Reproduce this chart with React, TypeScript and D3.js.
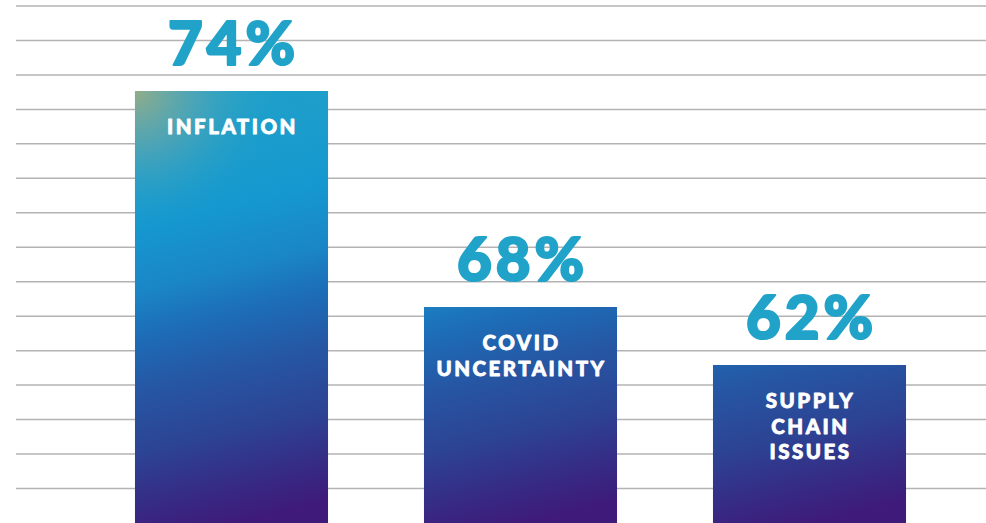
import React from "react";
import * as d3 from "d3";

const categories = ["INFLATION", "COVID UNCERTAINTY", "SUPPLY CHAIN ISSUES"];
const labelLines = [["INFLATION"], ["COVID", "UNCERTAINTY"], ["SUPPLY", "CHAIN", "ISSUES"]];
const values = [74, 68, 62];
const gridCount = 15;

const W = 986;
const H = 523;

export default function App() {
  const x = d3
    .scaleBand<string>()
    .domain(categories)
    .range([87, 954])
    .paddingInner(0.332)
    .paddingOuter(0.166);

  // bar tops are not linear in the source graphic: piecewise scale through the values
  const y = d3.scaleLinear().domain([62, 68, 74]).range([365, 307, 91]);
  const grid = d3.scaleLinear().domain([0, gridCount - 1]).range([6, 488.5]);

  const bw = x.bandwidth();
  const numFont = "Lato, Roboto, 'Open Sans', sans-serif";

  return (
    <svg
      width={W}
      height={H}
      viewBox={`0 0 ${W} ${H}`}
      style={{ position: "absolute", left: 0, top: 0, display: "block", background: "#fff" }}
    >
      <defs>
        {categories.map((c, i) => {
          const x0 = x(c)!;
          return (
            <linearGradient
              key={c}
              id={`g${i}`}
              gradientUnits="userSpaceOnUse"
              x1={x0}
              y1={91}
              x2={x0 + bw * 0.55}
              y2={H}
            >
              <stop offset="0" stopColor="#22a2c8" />
              <stop offset="0.3" stopColor="#1598cf" />
              <stop offset="0.44" stopColor="#1a86c6" />
              <stop offset="0.54" stopColor="#1d6cb7" />
              <stop offset="0.66" stopColor="#2656a3" />
              <stop offset="0.79" stopColor="#2c4494" />
              <stop offset="0.9" stopColor="#352d86" />
              <stop offset="1" stopColor="#3f1a7a" />
            </linearGradient>
          );
        })}
        <radialGradient
          id="corner"
          gradientUnits="userSpaceOnUse"
          cx={x(categories[0])!}
          cy={91}
          r={140}
        >
          <stop offset="0" stopColor="#93ad88" stopOpacity="1" />
          <stop offset="0.45" stopColor="#6fa8a8" stopOpacity="0.5" />
          <stop offset="1" stopColor="#22a2c8" stopOpacity="0" />
        </radialGradient>
      </defs>

      {d3.range(gridCount).map((i) => (
        <line
          key={i}
          x1={16}
          x2={W}
          y1={grid(i)}
          y2={grid(i)}
          stroke="#b3b3b3"
          strokeWidth={1.5}
        />
      ))}

      {categories.map((c, i) => {
        const x0 = x(c)!;
        const top = y(values[i]);
        const cx = x0 + bw / 2;
        return (
          <g key={c}>
            <rect x={x0} y={top} width={bw} height={H - top} fill={`url(#g${i})`} />
            {i === 0 && (
              <rect x={x0} y={top} width={bw} height={H - top} fill="url(#corner)" />
            )}
            <text
              x={cx + 2}
              y={top - 26.5}
              textAnchor="middle"
              fill="#21a3c9"
              stroke="#21a3c9"
              strokeWidth={2.2}
              strokeLinejoin="round"
              fontFamily={numFont}
              fontWeight={900}
              fontSize={60}
              letterSpacing={4}
            >
              {values[i]}%
            </text>
            {labelLines[i].map((ln, j) => (
              <text
                key={j}
                x={cx + 1}
                y={top + 43 + j * 25.5}
                textAnchor="middle"
                fill="#ffffff"
                stroke="#ffffff"
                strokeWidth={0.8}
                strokeLinejoin="round"
                fontFamily={numFont}
                fontWeight={900}
                fontSize={20.5}
                letterSpacing={2.5}
              >
                {ln}
              </text>
            ))}
          </g>
        );
      })}
    </svg>
  );
}
